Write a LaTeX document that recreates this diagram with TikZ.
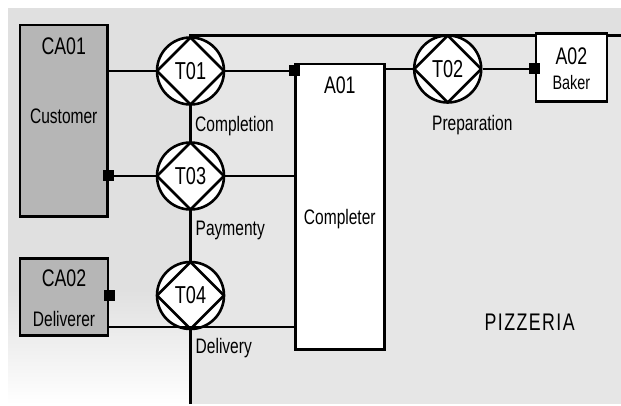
\documentclass[tikz,border=0pt]{standalone}
\usepackage{fontspec}
\setmainfont{Liberation Sans}[FakeStretch=0.74]
\usetikzlibrary{positioning}
\usetikzlibrary{calc}
\definecolor{bggray}{RGB}{224,224,224}
\definecolor{sysgray}{RGB}{230,230,230}
\definecolor{actorgray}{RGB}{182,182,182}

\tikzset{
    link/.style={line width=2.6pt},
    actor/.style={draw, line width=2.6pt, rectangle, inner sep=0pt},
    trans/.style={draw, line width=2.6pt, circle, fill=white, minimum size=67pt, inner sep=0pt,
        font=\fontsize{24.5}{25}\selectfont,
        path picture={\draw[line width=2.6pt] (path picture bounding box.north) -- (path picture bounding box.east)
            -- (path picture bounding box.south) -- (path picture bounding box.west) -- cycle;}},
    stub/.style={fill=black, rectangle, minimum size=11pt, inner sep=0pt},
    title/.style={font=\fontsize{24}{25}\selectfont, anchor=base, inner sep=0pt},
    role/.style={font=\fontsize{21}{22}\selectfont, anchor=base, inner sep=0pt},
    tlabel/.style={font=\fontsize{21}{22}\selectfont, anchor=base west, inner sep=0pt},
}

\begin{document}
\begin{tikzpicture}[x=1pt, y=-1pt]
    \useasboundingbox (0,0) rectangle (621,406);

    % backdrop and system boundary
    \fill[bggray] (8,8) rectangle (621,404);
    \shade[top color=bggray, bottom color=white] (8,290) rectangle (190.5,404);
    \fill[sysgray] (190.5,35.3) rectangle (621,404);
    \draw[link] (190.5,404) -- (190.5,35.3) -- (621,35.3);

    % actor roles
    \node[actor, fill=actorgray, minimum width=87.5pt, minimum height=191.5pt] (ca1) at (63.75,120.75) {};
    \node[actor, fill=actorgray, minimum width=88pt, minimum height=77pt] (ca2) at (64,297) {};
    \node[actor, fill=white, minimum width=89pt, minimum height=285.5pt] (a1) at (339.8,206.75) {};
    \node[actor, fill=white, minimum width=71.2pt, minimum height=67.6pt] (a2) at (571.4,67.5) {};

    \node[title] (ca1t) at (63.75,55) {CA01};
    \node[role] (ca1r) at (63.75,124) {Customer};
    \node[title] (ca2t) at (64,286) {CA02};
    \node[role] (ca2r) at (64,326.7) {Deliverer};
    \node[title] (a1t) at (339.8,93.3) {A01};
    \node[role] (a1r) at (339.8,224.3) {Completer};
    \node[title] (a2t) at (571.4,65) {A02};
    \node[role, font=\fontsize{19.5}{20}\selectfont] (a2r) at (571.4,90) {Baker};

    % transactions
    \node[trans] (t1) at (190.5,71) {T01};
    \node[trans] (t2) at (447.7,69) {T02};
    \node[trans] (t3) at (190.5,176) {T03};
    \node[trans] (t4) at (190.5,295.5) {T04};

    \node[tlabel] (t1l) at (195,131.7) {Completion};
    \node[role] (t2l) at (472.3,130.7) {Preparation};
    \node[tlabel] (t3l) at (195.5,235.7) {Paymenty};
    \node[tlabel] (t4l) at (195.5,353.3) {Delivery};

    % links
    \draw[link] (ca1.east |- t1) -- (t1.west);
    \draw[link] (t1.east) -- (a1.west |- t1);
    \node[stub] (s1) at (a1.west |- t1) {};

    \draw[link] (ca1.east |- t3) -- (t3.west);
    \node[stub] (s3) at (ca1.east |- t3) {};
    \draw[link] (t3.east) -- (a1.west |- t3);

    \coordinate (dl) at ([yshift=3.5pt]t4.south);
    \draw[link] (ca2.east |- dl) -- (a1.west |- dl);
    \node[stub] (s4) at (ca2.east |- t4) {};

    \draw[link] (a1.east |- t2) -- (t2.west);
    \draw[link] (t2.east) -- (a2.west |- t2);
    \node[stub] (s2) at (a2.west |- t2) {};

    \node[font=\fontsize{24}{25}\selectfont\addfontfeature{LetterSpace=6}, anchor=base, inner sep=0pt] (sys) at (529.7,330) {PIZZERIA};
\end{tikzpicture}
\end{document}
